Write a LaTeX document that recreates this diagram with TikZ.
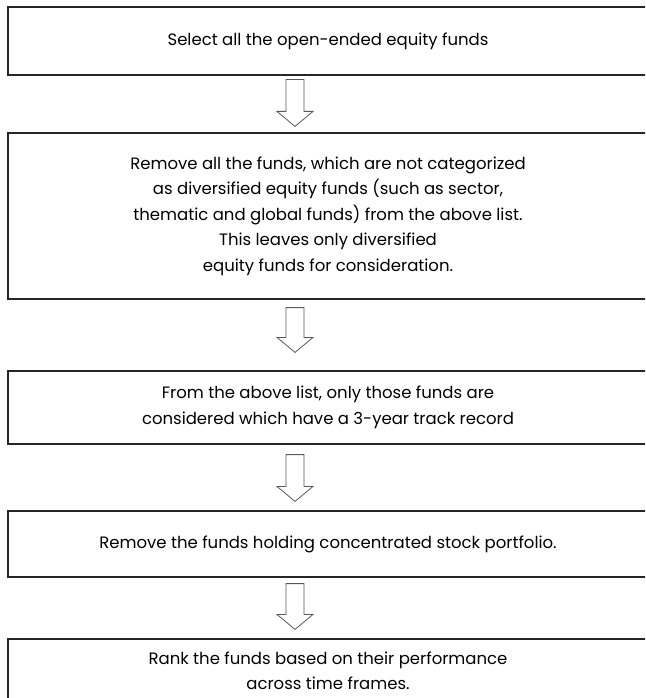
\documentclass[tikz,border=0pt]{standalone}
\usepackage{fontspec}
\setmainfont{Poppins}
\usetikzlibrary{calc}

\tikzset{
  stepbox/.style={draw=black!85, line width=1.2pt, minimum width=640pt, align=center,
    inner sep=0pt, font=\fontsize{16.5}{25.5}\selectfont},
  flowarrow/.style={draw=black!65, line width=0.8pt, fill=white, line join=miter},
}

% block arrow between two boxes: from, to, gap below, gap above
\newcommand{\fundarrow}[4]{%
  \draw[flowarrow] let \p1=($(#1.south)+(-33pt,-#3pt)$), \p2=($(#2.north)+(-33pt,#4pt)$) in
    (\x1-9pt,\y1) -- (\x1+9pt,\y1) -- (\x1+9pt,\y2+15pt) -- (\x1+18pt,\y2+15pt)
    -- (\x1,\y2) -- (\x1-18pt,\y2+15pt) -- (\x1-9pt,\y2+15pt) -- cycle;}

\begin{document}
\begin{tikzpicture}[x=1pt,y=1pt]
\useasboundingbox (0,0) rectangle (645,-698);
\clip (0,0) rectangle (645,-698);

\node[stepbox, minimum height=68pt] (select) at (328,-41)
  {Select all the open-ended equity funds};
\node[stepbox, minimum height=166pt] (remove) at (328,-216)
  {Remove all the funds, which are not categorized\\
   as diversified equity funds (such as sector,\\
   thematic and global funds) from the above list.\\
   This leaves only diversified\\
   equity funds for consideration.};
\node[stepbox, minimum height=73pt] (track) at (328,-407.5)
  {From the above list, only those funds are\\
   considered which have a 3-year track record};
\node[stepbox, minimum height=66pt] (concentrated) at (328,-544)
  {Remove the funds holding concentrated stock portfolio.};
\node[stepbox, minimum height=64pt] (rank) at (328,-671)
  {Rank the funds based on their performance\\
   across time frames.};

\fundarrow{select}{remove}{4}{6}
\fundarrow{remove}{track}{8}{18}
\fundarrow{track}{concentrated}{10}{9}
\fundarrow{concentrated}{rank}{6}{9}
\end{tikzpicture}
\end{document}
